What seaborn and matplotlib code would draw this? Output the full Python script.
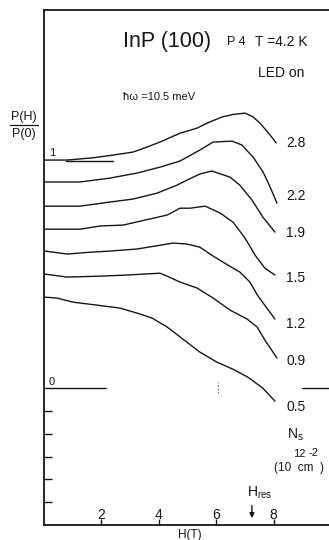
import matplotlib
matplotlib.use("Agg")
import matplotlib.pyplot as plt
from matplotlib.lines import Line2D
import numpy as np
import pandas as pd
import seaborn as sns

# Magnetic field H (T) and offset P(H)/P(0) traces for each carrier density N_s
ns_labels = ["2.8", "2.2", "1.9", "1.5", "1.2", "0.9", "0.5"]

h_28 = [0.05, 0.82, 1.72, 2.31, 3.11, 3.6, 4.05, 4.75, 5.34, 5.69, 6.21, 6.59, 7.01, 7.29, 7.53, 7.88, 8.09]
p_28 = [1.0, 1.0, 1.01, 1.02, 1.035, 1.057, 1.079, 1.118, 1.14, 1.162, 1.189, 1.2, 1.206, 1.189, 1.162, 1.11, 1.075]

h_22 = [0.05, 1.27, 2.31, 3.25, 4.05, 4.75, 5.44, 5.9, 6.56, 6.9, 7.29, 7.64, 7.88, 8.12]
p_22 = [0.904, 0.904, 0.921, 0.943, 0.969, 0.996, 1.044, 1.079, 1.083, 1.066, 1.013, 0.947, 0.882, 0.811]

h_19 = [0.05, 1.27, 2.31, 3.11, 3.95, 4.64, 4.99, 5.44, 5.86, 6.49, 6.83, 7.25, 7.63, 8.05]
p_19 = [0.798, 0.798, 0.816, 0.829, 0.855, 0.89, 0.912, 0.939, 0.952, 0.925, 0.89, 0.825, 0.75, 0.684]

h_15 = [0.05, 1.27, 1.97, 2.77, 3.36, 4.3, 4.75, 5.1, 5.62, 6.14, 6.59, 7.01, 7.36, 7.7, 8.05]
p_15 = [0.697, 0.697, 0.711, 0.715, 0.732, 0.759, 0.789, 0.789, 0.798, 0.768, 0.728, 0.658, 0.583, 0.526, 0.496]

h_12 = [0.05, 0.82, 1.62, 2.31, 3.25, 3.88, 4.5, 4.99, 5.44, 5.9, 6.42, 6.83, 7.18, 7.46, 7.77, 8.05]
p_12 = [0.601, 0.588, 0.596, 0.601, 0.61, 0.623, 0.636, 0.632, 0.618, 0.579, 0.539, 0.509, 0.465, 0.404, 0.351, 0.303]

h_09 = [0.05, 0.82, 1.97, 2.9, 4.05, 4.3, 4.75, 5.34, 5.9, 6.49, 7.08, 7.43, 7.7, 8.12]
p_09 = [0.5, 0.487, 0.491, 0.496, 0.504, 0.491, 0.465, 0.439, 0.395, 0.342, 0.303, 0.268, 0.211, 0.132]

h_05 = [0.05, 0.47, 1.03, 1.86, 2.66, 3.36, 3.78, 4.3, 4.85, 5.44, 6.03, 6.59, 7.11, 7.63, 8.05]
p_05 = [0.399, 0.395, 0.377, 0.364, 0.351, 0.325, 0.307, 0.268, 0.215, 0.158, 0.114, 0.083, 0.048, 0.0, -0.057]

x_ticks = [2, 4, 6, 8]
y_ticks = [-0.5, -0.4, -0.3, -0.2, -0.1]
h_res = 7.25

series_h = [h_28, h_22, h_19, h_15, h_12, h_09, h_05]
series_p = [p_28, p_22, p_19, p_15, p_12, p_09, p_05]

frames = []
for lab, hs, ps in zip(ns_labels, series_h, series_p):
    frames.append(pd.DataFrame({"H": hs, "P": ps, "Ns": lab}))
df = pd.concat(frames, ignore_index=True)

sns.set_style("ticks")
plt.rcParams["font.family"] = ["Liberation Sans", "DejaVu Sans"]
plt.rcParams["mathtext.fontset"] = "custom"
plt.rcParams["mathtext.rm"] = "Liberation Sans"
plt.rcParams["mathtext.it"] = "Liberation Sans"

W, H = 329, 540
fig = plt.figure(figsize=(W / 100, H / 100), dpi=100)
x0, x1, ytop, ybot = 43.5, 329, 10, 525
ax = fig.add_axes([x0 / W, (H - ybot) / H, (x1 - x0) / W, (ybot - ytop) / H])

ink = "#161616"
sns.lineplot(data=df, x="H", y="P", units="Ns", estimator=None, sort=False,
             color=ink, lw=1.0, ax=ax, legend=False)

ax.set_xlim(0, 9.93)
ax.set_ylim(-0.6, 1.658)

# reference levels for 1 and 0
ax.plot([0.78, 2.42], [0.996, 0.996], color=ink, lw=1.0)
ax.plot([0, 2.17], [0, 0], color=ink, lw=1.0)
ax.plot([9.0, 9.93], [0, 0], color=ink, lw=1.0)
ax.plot([6.07, 6.07], [-0.02, 0.025], color="0.45", lw=0.8, ls=(0, (1.5, 1.5)))
ax.text(0.3, 1.03, "1", fontsize=8, ha="center", va="center", color=ink)
ax.text(0.3, 0.026, "0", fontsize=8, ha="center", va="center", color=ink)

# N_s labels at the curve ends
label_y = [1.075, 0.842, 0.68, 0.482, 0.281, 0.118, -0.083]
for lab, ly in zip(ns_labels, label_y):
    ax.text(8.78, ly, lab, fontsize=10, ha="center", va="center", color=ink)
ax.text(8.75, -0.206, r"N$_{\rm s}$", fontsize=10, ha="center", va="center", color=ink)
# unit label, typewriter style with the exponents set on a raised line
ax.text(8.0, -0.348, "(10  cm  )", fontsize=8.5, ha="left", va="center", color=ink)
ax.text(8.68, -0.287, "12", fontsize=8, ha="left", va="center", color=ink)
ax.text(9.22, -0.285, "-2", fontsize=8, ha="left", va="center", color=ink)

# header texts
ax.text(2.77, 1.518, "InP (100)", fontsize=15.5, ha="left", va="center", color=ink)
ax.text(6.38, 1.518, "P 4", fontsize=9, ha="left", va="center", color=ink)
ax.text(7.36, 1.518, "T =4.2 K", fontsize=10, ha="left", va="center", color=ink)
ax.text(7.46, 1.382, "LED on", fontsize=10, ha="left", va="center", color=ink)
ax.text(2.77, 1.276, "ħω =10.5 meV", fontsize=8, ha="left", va="center", color=ink)

# resonance field marker
ax.text(7.53, -0.46, r"H$_{\rm res}$", fontsize=10, ha="center", va="center", color=ink)
ax.annotate("", xy=(h_res, -0.57), xytext=(h_res, -0.515),
            arrowprops=dict(arrowstyle="-|>", color=ink, lw=1.0,
                            mutation_scale=7, shrinkA=0, shrinkB=0))

# y-axis fraction label
fig.text(24 / W, 1 - 117 / H, "P(H)", fontsize=9, ha="center", va="center", color=ink)
fig.text(24 / W, 1 - 134 / H, "P(0)", fontsize=9, ha="center", va="center", color=ink)
fig.add_artist(Line2D([10 / W, 38 / W], [1 - 125 / H, 1 - 125 / H], color=ink, lw=0.9))

# axes frame and ticks
ax.set_xticks(x_ticks)
ax.set_xticklabels([str(t) for t in x_ticks])
ax.set_yticks(y_ticks)
ax.set_yticklabels([])
ax.tick_params(axis="x", direction="in", length=4.3, width=1.0, pad=-12.5,
               labelsize=10, colors=ink)
ax.tick_params(axis="y", direction="in", length=5.8, width=1.0, colors=ink)
ax.spines["right"].set_visible(False)
for s in ["left", "bottom", "top"]:
    ax.spines[s].set_linewidth(1.3)
    ax.spines[s].set_color(ink)
ax.set_ylabel("")
ax.set_xlabel("H(T)", fontsize=8.5, color=ink)
ax.xaxis.set_label_coords(5.1 / 9.93, -0.008)

fig.savefig("out.png", dpi=100)
